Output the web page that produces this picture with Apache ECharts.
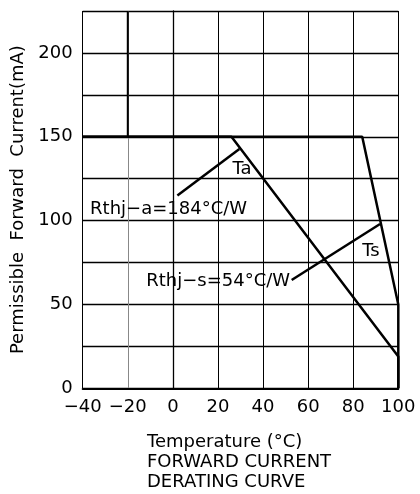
<!DOCTYPE html>
<html>
<head>
<meta charset="utf-8">
<script src="https://cdn.jsdelivr.net/npm/echarts@6/dist/echarts.min.js"></script>
<style>
  html, body { margin: 0; padding: 0; background: #fff; }
  #chart { width: 420px; height: 494px; }
</style>
</head>
<body>
<div id="chart"></div>
<script>
// Temperature axis (°C) and current axis (mA)
const tempTicks = [-40, -20, 0, 20, 40, 60, 80, 100];
const currentTicks = [0, 50, 100, 150, 200];

// Derating curves: [temperature °C, current mA]
const curveTa = [[-40, 150], [26, 150], [100, 19], [100, 0]];
const curveTs = [[-40, 150], [84, 150], [100, 50], [100, 0]];

// Leader lines from the thermal resistance notes to the curves
const leaderTa = [[2, 115], [29.5, 142.7]];
const leaderTs = [[52.7, 64.6], [91.9, 98]];

// Heavy segment of the -20 °C grid line above 150 mA
const heavyGrid = [[-20, 150], [-20, 225]];

// Text notes anchored in data coordinates
const notesCentered = [
  [30.7, 130.5, 'Ta'],
  [87.9, 81.6, 'Ts'],
  [-1.9, 106.9, 'Rthj\u2212a=184\u00b0C/W']
];
const notesRight = [
  [52, 64, 'Rthj\u2212s=54\u00b0C/W']
];

const FONT = 'DejaVu Sans';
const chart = echarts.init(document.getElementById('chart'), null, { renderer: 'canvas' });

const lineSeries = (data, width) => ({
  type: 'line',
  data: data,
  showSymbol: false,
  symbol: 'none',
  silent: true,
  lineStyle: { color: '#000', width: width },
  z: 5
});

const noteLabel = (position) => ({
  show: true,
  position: position,
  distance: 0,
  formatter: p => p.data[2],
  fontFamily: FONT,
  fontSize: 18,
  color: '#000',
  textBorderWidth: 0,
  textShadowBlur: 0
});

const noteSeries = (data, position) => ({
  type: 'scatter',
  data: data,
  symbolSize: 0,
  silent: true,
  z: 6,
  itemStyle: { color: '#000', opacity: 1 },
  label: noteLabel(position)
});

chart.setOption({
  animation: false,
  backgroundColor: '#fff',
  title: {
    text: 'Temperature (\u00b0C)\nFORWARD CURRENT\nDERATING CURVE',
    left: 147,
    top: 432,
    padding: 0,
    textStyle: { fontFamily: FONT, fontSize: 18, fontWeight: 'normal', color: '#000', lineHeight: 20 }
  },
  grid: { left: 82.7, right: 21.7, top: 11, bottom: 105.7, containLabel: false },
  xAxis: {
    type: 'value',
    min: tempTicks[0],
    max: tempTicks[tempTicks.length - 1],
    interval: 20,
    axisLine: { show: true, onZero: false, lineStyle: { color: '#000', width: 2 } },
    axisTick: { show: false },
    axisLabel: {
      margin: 10,
      fontFamily: FONT, fontSize: 18, color: '#000',
      formatter: v => v < 0 ? '\u2212' + Math.abs(v) : String(v)
    },
    splitLine: {
      show: true,
      lineStyle: { color: ['#000', '#888', '#000', '#000', '#000', '#000', '#000', '#000'], width: 1 }
    }
  },
  yAxis: {
    type: 'value',
    min: 0,
    max: 225,
    interval: 25,
    name: 'Permissible  Forward  Current(mA)',
    nameLocation: 'middle',
    nameGap: 50,
    nameTextStyle: { fontFamily: FONT, fontSize: 18, color: '#000' },
    axisLine: { show: true, lineStyle: { color: '#000', width: 1.3 } },
    axisTick: { show: false },
    axisLabel: {
      margin: 10,
      fontFamily: FONT, fontSize: 18, color: '#000',
      formatter: v => currentTicks.indexOf(v) >= 0 ? String(v) : ''
    },
    splitLine: { show: true, lineStyle: { color: '#000', width: 1.3 } }
  },
  series: [
    lineSeries(heavyGrid, 2),
    lineSeries(curveTa, 2.5),
    lineSeries(curveTs, 2.5),
    lineSeries(leaderTa, 2.5),
    lineSeries(leaderTs, 2.5),
    noteSeries(notesCentered, 'inside'),
    noteSeries(notesRight, 'left')
  ]
});
</script>
</body>
</html>
